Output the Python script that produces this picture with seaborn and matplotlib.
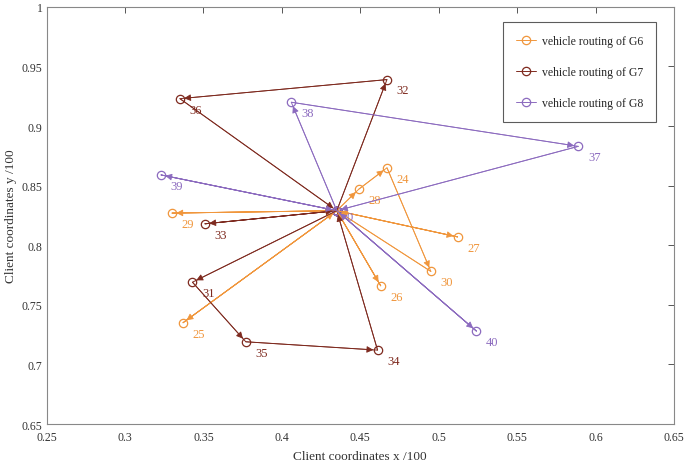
import matplotlib
matplotlib.use("Agg")
import matplotlib.pyplot as plt
import seaborn as sns

# node ids and coordinates (/100)
node_ids = [0, 24, 25, 26, 27, 28, 29, 30, 31, 32, 33, 34, 35, 36, 37, 38, 39, 40]
node_x = [0.435, 0.467, 0.337, 0.463, 0.512, 0.449, 0.330, 0.495, 0.343, 0.467,
          0.351, 0.461, 0.377, 0.335, 0.589, 0.406, 0.323, 0.524]
node_y = [0.829, 0.865, 0.735, 0.766, 0.807, 0.847, 0.827, 0.778, 0.769, 0.939,
          0.818, 0.712, 0.719, 0.923, 0.883, 0.920, 0.859, 0.728]

# trips of each vehicle group (node ids, start and end at depot 0)
routes_g6 = [[0, 28, 24, 30, 0], [0, 27, 0], [0, 26, 0], [0, 29, 0], [0, 25, 0]]
routes_g7 = [[0, 32, 36, 0], [0, 33, 0], [0, 31, 35, 34, 0]]
routes_g8 = [[0, 38, 37, 0], [0, 39, 0], [0, 40, 0]]

group_names = ["vehicle routing of G6", "vehicle routing of G7", "vehicle routing of G8"]
group_colors = ["#F0963C", "#7E2A1F", "#8C6BBF"]

x_ticks = [0.25, 0.3, 0.35, 0.4, 0.45, 0.5, 0.55, 0.6, 0.65]
y_ticks = [0.65, 0.7, 0.75, 0.8, 0.85, 0.9, 0.95, 1]

sns.set_style("white")
plt.rcParams["font.family"] = ["Liberation Serif", "DejaVu Serif"]

pos = {n: (x, y) for n, x, y in zip(node_ids, node_x, node_y)}

fig = plt.figure(figsize=(6.85, 4.64), dpi=100)
ax = fig.add_axes([0.068, 0.084, 0.916, 0.899])

for routes, name, col in zip([routes_g6, routes_g7, routes_g8], group_names, group_colors):
    for i, r in enumerate(routes):
        xs = [pos[n][0] for n in r]
        ys = [pos[n][1] for n in r]
        sns.lineplot(x=xs, y=ys, sort=False, estimator=None, ax=ax, color=col,
                     lw=0.7, marker="o", markersize=6, markerfacecolor="none",
                     markeredgecolor=col, markeredgewidth=0.9,
                     label=name if i == 0 else None)
        # arrowheads on every leg
        for a, b in zip(r[:-1], r[1:]):
            ax.annotate("", xy=pos[b], xytext=pos[a],
                        arrowprops=dict(arrowstyle="-|>", color=col, lw=0.6,
                                        mutation_scale=10, shrinkA=0, shrinkB=3))
        # labels of customers
        for n in r:
            if n != 0:
                ax.annotate(str(n), xy=pos[n], xytext=(7, -10), textcoords="offset points",
                            color=col, fontsize=9)

ax.annotate("0", xy=pos[0], xytext=(7, -7), textcoords="offset points",
            color=group_colors[2], fontsize=9)

ax.set_xlim(0.25, 0.65)
ax.set_ylim(0.65, 1)
ax.set_xticks(x_ticks)
ax.set_xticklabels([f"{t:g}" for t in x_ticks])
ax.set_yticks(y_ticks)
ax.set_yticklabels([f"{t:g}" for t in y_ticks])
ax.tick_params(direction="in", length=4, width=0.7, color="#555555",
               top=True, right=True, labelsize=8.5, labelcolor="#333333", pad=3)
ax.tick_params(axis="x", pad=5)
for sp in ax.spines.values():
    sp.set_color("#888888")
    sp.set_linewidth(0.8)

ax.set_xlabel("Client coordinates x /100", fontsize=9.5, color="#333333", labelpad=5)
ax.set_ylabel("Client coordinates y /100", fontsize=9.5, color="#333333", labelpad=3)

leg = ax.legend(loc="upper right", bbox_to_anchor=(0.981, 0.978), fontsize=8.5,
                frameon=True, fancybox=False, edgecolor="#333333",
                labelspacing=1.6, handlelength=1.7, borderpad=1.1, handletextpad=0.5)
leg.get_frame().set_linewidth(0.8)

fig.savefig("out.png", dpi=100)
